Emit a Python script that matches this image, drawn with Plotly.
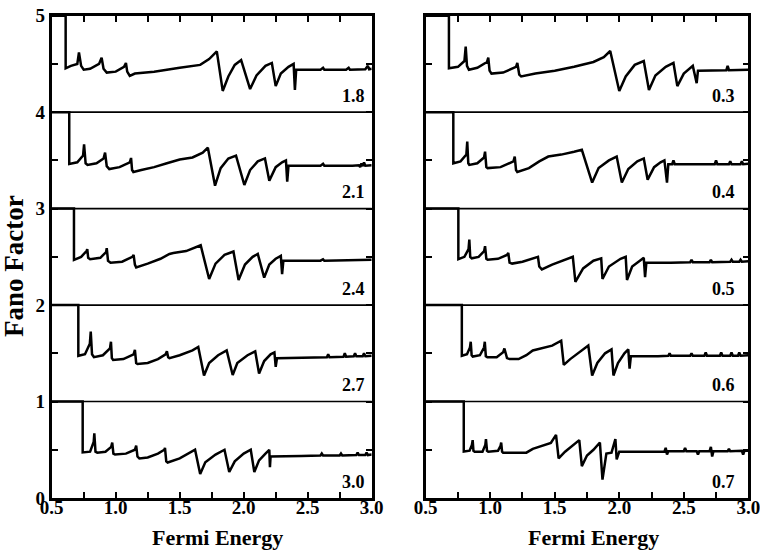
import plotly.graph_objects as go

# ---------------- data ----------------
# Left panel curves (offset stacked), labels 1.8 ... 3.0
x_L18 = [0.5, 0.609, 0.609, 0.65, 0.70, 0.713, 0.73, 0.75, 0.80, 0.87, 0.89, 0.905, 0.93, 1.00, 1.065, 1.08, 1.09, 1.11, 1.15, 1.3, 1.5, 1.66, 1.73, 1.79, 1.836, 1.88, 1.93, 1.98, 2.05, 2.10, 2.17, 2.22, 2.25, 2.29, 2.35, 2.39, 2.40, 2.41, 2.42, 2.6, 2.62, 2.63, 2.8, 2.82, 2.83, 2.95, 2.97, 2.98, 3.0]
y_L18 = [5.0, 5.0, 4.455, 4.48, 4.50, 4.62, 4.48, 4.44, 4.45, 4.50, 4.565, 4.45, 4.41, 4.42, 4.47, 4.51, 4.42, 4.375, 4.40, 4.42, 4.46, 4.49, 4.55, 4.63, 4.22, 4.37, 4.49, 4.54, 4.24, 4.38, 4.48, 4.51, 4.27, 4.40, 4.47, 4.50, 4.23, 4.44, 4.44, 4.44, 4.46, 4.44, 4.44, 4.46, 4.44, 4.445, 4.48, 4.445, 4.45]

x_L21 = [0.5, 0.637, 0.637, 0.70, 0.745, 0.753, 0.765, 0.78, 0.85, 0.905, 0.917, 0.93, 0.95, 1.03, 1.11, 1.12, 1.128, 1.138, 1.2, 1.3, 1.4, 1.5, 1.6, 1.68, 1.72, 1.776, 1.82, 1.88, 1.94, 2.005, 2.05, 2.11, 2.166, 2.20, 2.25, 2.30, 2.33, 2.34, 2.35, 2.6, 2.62, 2.63, 2.85, 2.9, 2.91, 2.92, 2.93, 2.94, 2.95, 3.0]
y_L21 = [4.0, 4.0, 3.463, 3.48, 3.55, 3.667, 3.47, 3.453, 3.47, 3.52, 3.58, 3.44, 3.41, 3.43, 3.48, 3.525, 3.40, 3.38, 3.40, 3.43, 3.47, 3.51, 3.53, 3.58, 3.632, 3.238, 3.42, 3.52, 3.55, 3.245, 3.40, 3.49, 3.52, 3.29, 3.43, 3.48, 3.50, 3.28, 3.445, 3.445, 3.465, 3.445, 3.445, 3.45, 3.43, 3.47, 3.44, 3.48, 3.445, 3.45]

x_L24 = [0.5, 0.674, 0.674, 0.73, 0.772, 0.778, 0.785, 0.80, 0.88, 0.925, 0.93, 0.94, 0.96, 1.05, 1.13, 1.14, 1.15, 1.16, 1.25, 1.35, 1.42, 1.45, 1.55, 1.62, 1.664, 1.73, 1.78, 1.85, 1.92, 1.96, 2.01, 2.07, 2.11, 2.16, 2.20, 2.25, 2.29, 2.30, 2.31, 2.6, 2.62, 2.63, 2.9, 3.0]
y_L24 = [3.0, 3.0, 2.468, 2.50, 2.56, 2.58, 2.49, 2.475, 2.49, 2.55, 2.59, 2.46, 2.44, 2.45, 2.50, 2.52, 2.42, 2.39, 2.43, 2.48, 2.53, 2.54, 2.56, 2.60, 2.62, 2.27, 2.43, 2.52, 2.555, 2.26, 2.42, 2.50, 2.53, 2.285, 2.42, 2.48, 2.51, 2.32, 2.46, 2.46, 2.475, 2.46, 2.465, 2.47]

x_L27 = [0.5, 0.708, 0.708, 0.76, 0.798, 0.805, 0.815, 0.83, 0.90, 0.955, 0.963, 0.97, 0.98, 1.06, 1.14, 1.15, 1.16, 1.17, 1.25, 1.33, 1.39, 1.40, 1.41, 1.42, 1.50, 1.60, 1.645, 1.69, 1.73, 1.80, 1.867, 1.914, 1.95, 2.03, 2.09, 2.12, 2.16, 2.21, 2.24, 2.25, 2.26, 2.5, 2.65, 2.66, 2.67, 2.78, 2.79, 2.8, 2.86, 2.87, 2.88, 2.93, 2.94, 2.95, 3.0]
y_L27 = [2.0, 2.0, 1.474, 1.49, 1.60, 1.725, 1.49, 1.46, 1.48, 1.55, 1.62, 1.45, 1.43, 1.44, 1.49, 1.535, 1.40, 1.39, 1.40, 1.44, 1.49, 1.52, 1.46, 1.45, 1.48, 1.53, 1.565, 1.27, 1.40, 1.48, 1.53, 1.275, 1.40, 1.48, 1.52, 1.29, 1.42, 1.49, 1.51, 1.36, 1.45, 1.455, 1.46, 1.49, 1.46, 1.465, 1.50, 1.465, 1.47, 1.50, 1.47, 1.47, 1.50, 1.47, 1.475]

x_L30 = [0.5, 0.742, 0.742, 0.80, 0.828, 0.833, 0.842, 0.856, 0.92, 0.965, 0.973, 0.982, 0.995, 1.08, 1.15, 1.16, 1.17, 1.185, 1.25, 1.33, 1.38, 1.385, 1.395, 1.406, 1.50, 1.58, 1.62, 1.66, 1.70, 1.78, 1.85, 1.887, 1.93, 2.00, 2.055, 2.083, 2.12, 2.17, 2.20, 2.205, 2.21, 2.45, 2.6, 2.61, 2.62, 2.75, 2.76, 2.77, 2.88, 2.89, 2.9, 2.95, 2.96, 2.97, 3.0]
y_L30 = [1.0, 1.0, 0.472, 0.48, 0.58, 0.67, 0.48, 0.47, 0.48, 0.53, 0.575, 0.46, 0.45, 0.46, 0.50, 0.544, 0.43, 0.41, 0.42, 0.46, 0.50, 0.52, 0.38, 0.368, 0.41, 0.47, 0.50, 0.25, 0.37, 0.45, 0.50, 0.27, 0.38, 0.46, 0.50, 0.27, 0.39, 0.46, 0.50, 0.32, 0.43, 0.435, 0.44, 0.46, 0.44, 0.44, 0.46, 0.44, 0.445, 0.47, 0.445, 0.445, 0.47, 0.445, 0.45]

# Right panel curves, labels 0.3 ... 0.7
x_R03 = [0.5, 0.68, 0.68, 0.75, 0.80, 0.81, 0.82, 0.835, 0.90, 0.975, 0.985, 0.995, 1.01, 1.10, 1.20, 1.21, 1.225, 1.24, 1.35, 1.5, 1.65, 1.80, 1.88, 1.93, 2.00, 2.05, 2.12, 2.19, 2.23, 2.28, 2.36, 2.42, 2.45, 2.50, 2.57, 2.60, 2.61, 2.8, 2.83, 2.84, 2.85, 3.0]
y_R03 = [5.0, 5.0, 4.455, 4.47, 4.53, 4.68, 4.48, 4.44, 4.46, 4.52, 4.565, 4.43, 4.40, 4.41, 4.47, 4.51, 4.39, 4.37, 4.40, 4.43, 4.47, 4.52, 4.57, 4.634, 4.22, 4.37, 4.49, 4.53, 4.23, 4.38, 4.47, 4.51, 4.27, 4.40, 4.48, 4.30, 4.43, 4.43, 4.435, 4.48, 4.435, 4.44]

x_R04 = [0.5, 0.714, 0.714, 0.77, 0.815, 0.822, 0.83, 0.838, 0.90, 0.952, 0.96, 0.97, 0.98, 1.08, 1.18, 1.19, 1.20, 1.21, 1.30, 1.38, 1.45, 1.55, 1.65, 1.71, 1.79, 1.84, 1.92, 1.98, 2.02, 2.07, 2.14, 2.19, 2.22, 2.27, 2.32, 2.35, 2.37, 2.38, 2.41, 2.42, 2.43, 2.74, 2.75, 2.76, 2.85, 2.86, 2.87, 2.94, 2.95, 2.96, 3.0]
y_R04 = [4.0, 4.0, 3.47, 3.49, 3.56, 3.695, 3.47, 3.453, 3.47, 3.53, 3.59, 3.43, 3.42, 3.43, 3.49, 3.54, 3.40, 3.38, 3.42, 3.49, 3.54, 3.56, 3.59, 3.61, 3.27, 3.42, 3.50, 3.54, 3.27, 3.41, 3.49, 3.52, 3.30, 3.43, 3.48, 3.50, 3.27, 3.46, 3.46, 3.50, 3.46, 3.46, 3.50, 3.46, 3.46, 3.49, 3.46, 3.46, 3.49, 3.46, 3.465]

x_R05 = [0.5, 0.753, 0.753, 0.80, 0.832, 0.838, 0.845, 0.857, 0.91, 0.953, 0.96, 0.97, 0.98, 1.06, 1.13, 1.14, 1.15, 1.17, 1.25, 1.33, 1.365, 1.37, 1.38, 1.40, 1.48, 1.58, 1.64, 1.66, 1.72, 1.80, 1.86, 1.87, 1.92, 2.01, 2.05, 2.06, 2.10, 2.17, 2.19, 2.20, 2.21, 2.40, 2.55, 2.56, 2.57, 2.7, 2.71, 2.72, 2.86, 2.87, 2.88, 2.93, 2.94, 2.95, 3.0]
y_R05 = [3.0, 3.0, 2.475, 2.50, 2.58, 2.68, 2.50, 2.485, 2.50, 2.56, 2.61, 2.48, 2.47, 2.48, 2.52, 2.54, 2.44, 2.43, 2.45, 2.48, 2.50, 2.50, 2.40, 2.37, 2.42, 2.47, 2.50, 2.24, 2.38, 2.46, 2.485, 2.27, 2.40, 2.48, 2.50, 2.26, 2.40, 2.47, 2.49, 2.29, 2.44, 2.44, 2.445, 2.47, 2.445, 2.445, 2.47, 2.445, 2.45, 2.47, 2.45, 2.45, 2.47, 2.45, 2.455]

x_R06 = [0.5, 0.78, 0.78, 0.82, 0.843, 0.849, 0.856, 0.865, 0.92, 0.952, 0.958, 0.966, 0.978, 1.05, 1.10, 1.11, 1.13, 1.15, 1.22, 1.28, 1.33, 1.40, 1.48, 1.55, 1.57, 1.62, 1.70, 1.76, 1.79, 1.83, 1.89, 1.94, 1.955, 1.99, 2.04, 2.07, 2.08, 2.09, 2.30, 2.38, 2.39, 2.40, 2.55, 2.56, 2.57, 2.66, 2.67, 2.68, 2.78, 2.79, 2.80, 2.86, 2.87, 2.88, 2.92, 2.93, 2.94, 3.0]
y_R06 = [2.0, 2.0, 1.474, 1.49, 1.56, 1.62, 1.48, 1.466, 1.48, 1.56, 1.62, 1.47, 1.46, 1.46, 1.51, 1.55, 1.45, 1.44, 1.44, 1.48, 1.53, 1.55, 1.58, 1.63, 1.38, 1.44, 1.52, 1.58, 1.27, 1.40, 1.50, 1.54, 1.27, 1.40, 1.50, 1.54, 1.34, 1.47, 1.47, 1.475, 1.50, 1.475, 1.475, 1.50, 1.475, 1.475, 1.51, 1.475, 1.475, 1.51, 1.475, 1.475, 1.51, 1.475, 1.475, 1.51, 1.475, 1.48]

x_R07 = [0.5, 0.795, 0.795, 0.84, 0.858, 0.864, 0.87, 0.88, 0.94, 0.962, 0.967, 0.975, 0.985, 1.06, 1.08, 1.085, 1.092, 1.10, 1.20, 1.28, 1.33, 1.40, 1.47, 1.51, 1.53, 1.58, 1.64, 1.69, 1.71, 1.75, 1.80, 1.85, 1.87, 1.90, 1.94, 1.97, 1.98, 2.00, 2.20, 2.35, 2.36, 2.37, 2.38, 2.50, 2.51, 2.52, 2.60, 2.61, 2.62, 2.70, 2.71, 2.72, 2.73, 2.84, 2.85, 2.86, 2.95, 2.96, 2.97, 3.0]
y_R07 = [1.0, 1.0, 0.482, 0.49, 0.55, 0.60, 0.49, 0.48, 0.48, 0.55, 0.61, 0.49, 0.48, 0.49, 0.54, 0.575, 0.48, 0.47, 0.47, 0.47, 0.51, 0.54, 0.57, 0.655, 0.41, 0.48, 0.55, 0.60, 0.33, 0.44, 0.50, 0.575, 0.19, 0.46, 0.47, 0.61, 0.40, 0.48, 0.48, 0.48, 0.52, 0.45, 0.485, 0.485, 0.52, 0.485, 0.485, 0.45, 0.485, 0.485, 0.53, 0.43, 0.485, 0.485, 0.51, 0.485, 0.49, 0.45, 0.49, 0.49]

left_labels = ["1.8", "2.1", "2.4", "2.7", "3.0"]
right_labels = ["0.3", "0.4", "0.5", "0.6", "0.7"]
band_bottoms = [4, 3, 2, 1, 0]
separators = [1, 2, 3, 4]

x_tick_vals = [0.5, 0.75, 1.0, 1.25, 1.5, 1.75, 2.0, 2.25, 2.5, 2.75, 3.0]
x_tick_text = ["0.5", "", "1.0", "", "1.5", "", "2.0", "", "2.5", "", "3.0"]
y_tick_vals = [0, 0.5, 1, 1.5, 2, 2.5, 3, 3.5, 4, 4.5, 5]
y_tick_text = ["0", "", "1", "", "2", "", "3", "", "4", "", "5"]

x_title = "Fermi Energy"
y_title = "Fano Factor"

# ---------------- figure ----------------
W, H = 760, 554
FONT = "Liberation Serif, Times New Roman, serif"

left_curves = [(x_L18, y_L18), (x_L21, y_L21), (x_L24, y_L24), (x_L27, y_L27), (x_L30, y_L30)]
right_curves = [(x_R03, y_R03), (x_R04, y_R04), (x_R05, y_R05), (x_R06, y_R06), (x_R07, y_R07)]

fig = go.Figure()
for xs, ys in left_curves:
    fig.add_trace(go.Scatter(x=xs, y=ys, mode="lines", xaxis="x", yaxis="y",
                             line=dict(color="black", width=2.5), showlegend=False, hoverinfo="skip"))
for xs, ys in right_curves:
    fig.add_trace(go.Scatter(x=xs, y=ys, mode="lines", xaxis="x2", yaxis="y2",
                             line=dict(color="black", width=2.5), showlegend=False, hoverinfo="skip"))

shapes = []
for ax in ["", "2"]:
    for s in separators:
        shapes.append(dict(type="line", xref="x%s domain" % ax, yref="y" + ax,
                           x0=0, x1=1, y0=s, y1=s, line=dict(color="black", width=1.6), layer="below"))

annotations = []
for lab, b in zip(left_labels, band_bottoms):
    annotations.append(dict(text=lab, x=2.965, y=b + 0.17, xref="x", yref="y", xanchor="right",
                            yanchor="middle", showarrow=False,
                            font=dict(family=FONT, size=18, color="black", weight="bold")))
for lab, b in zip(right_labels, band_bottoms):
    annotations.append(dict(text=lab, x=2.91, y=b + 0.17, xref="x2", yref="y2", xanchor="right",
                            yanchor="middle", showarrow=False,
                            font=dict(family=FONT, size=18, color="black", weight="bold")))

xl0, xl1 = 51.7 / W, 371.7 / W
xr0, xr1 = 425.7 / W, 748.3 / W
yb, yt = 1 - 498 / H, 1 - 15.7 / H

for cx in [(xl0 + xl1) / 2, (xr0 + xr1) / 2]:
    annotations.append(dict(text=x_title, x=cx + 6 / W, y=1 - 537 / H, xref="paper", yref="paper",
                            xanchor="center", yanchor="middle", showarrow=False,
                            font=dict(family=FONT, size=22, color="black", weight="bold")))
annotations.append(dict(text=y_title, x=14 / W, y=1 - 266 / H, xref="paper", yref="paper",
                        xanchor="center", yanchor="middle", textangle=-90, showarrow=False,
                        font=dict(family=FONT, size=27, color="black", weight="bold")))

axis_common = dict(showline=True, linecolor="black", linewidth=2.6, mirror="ticks",
                   ticks="inside", ticklen=6, tickwidth=2, tickcolor="black",
                   showgrid=False, zeroline=False, fixedrange=True, automargin=False,
                   ticklabeloverflow="allow",
                   tickfont=dict(family=FONT, size=19, color="black", weight="bold"))

fig.update_layout(
    width=W, height=H,
    margin=dict(l=0, r=0, t=0, b=0, autoexpand=False),
    paper_bgcolor="white", plot_bgcolor="white",
    showlegend=False,
    xaxis=dict(domain=[xl0, xl1], range=[0.5, 3.0], anchor="y", ticklabelstandoff=-10,
               tickmode="array", tickvals=x_tick_vals, ticktext=x_tick_text, **axis_common),
    yaxis=dict(domain=[yb, yt], range=[0, 5], anchor="x",
               tickmode="array", tickvals=y_tick_vals, ticktext=y_tick_text, **axis_common),
    xaxis2=dict(domain=[xr0, xr1], range=[0.5, 3.0], anchor="y2", ticklabelstandoff=-10,
                tickmode="array", tickvals=x_tick_vals, ticktext=x_tick_text, **axis_common),
    yaxis2=dict(domain=[yb, yt], range=[0, 5], anchor="x2",
                tickmode="array", tickvals=y_tick_vals, ticktext=[""] * len(y_tick_vals), **axis_common),
    shapes=shapes,
    annotations=annotations,
)

fig.write_html("out.html", config={"displayModeBar": False},
               post_script="document.body.style.margin='0';document.body.style.overflow='hidden';")
